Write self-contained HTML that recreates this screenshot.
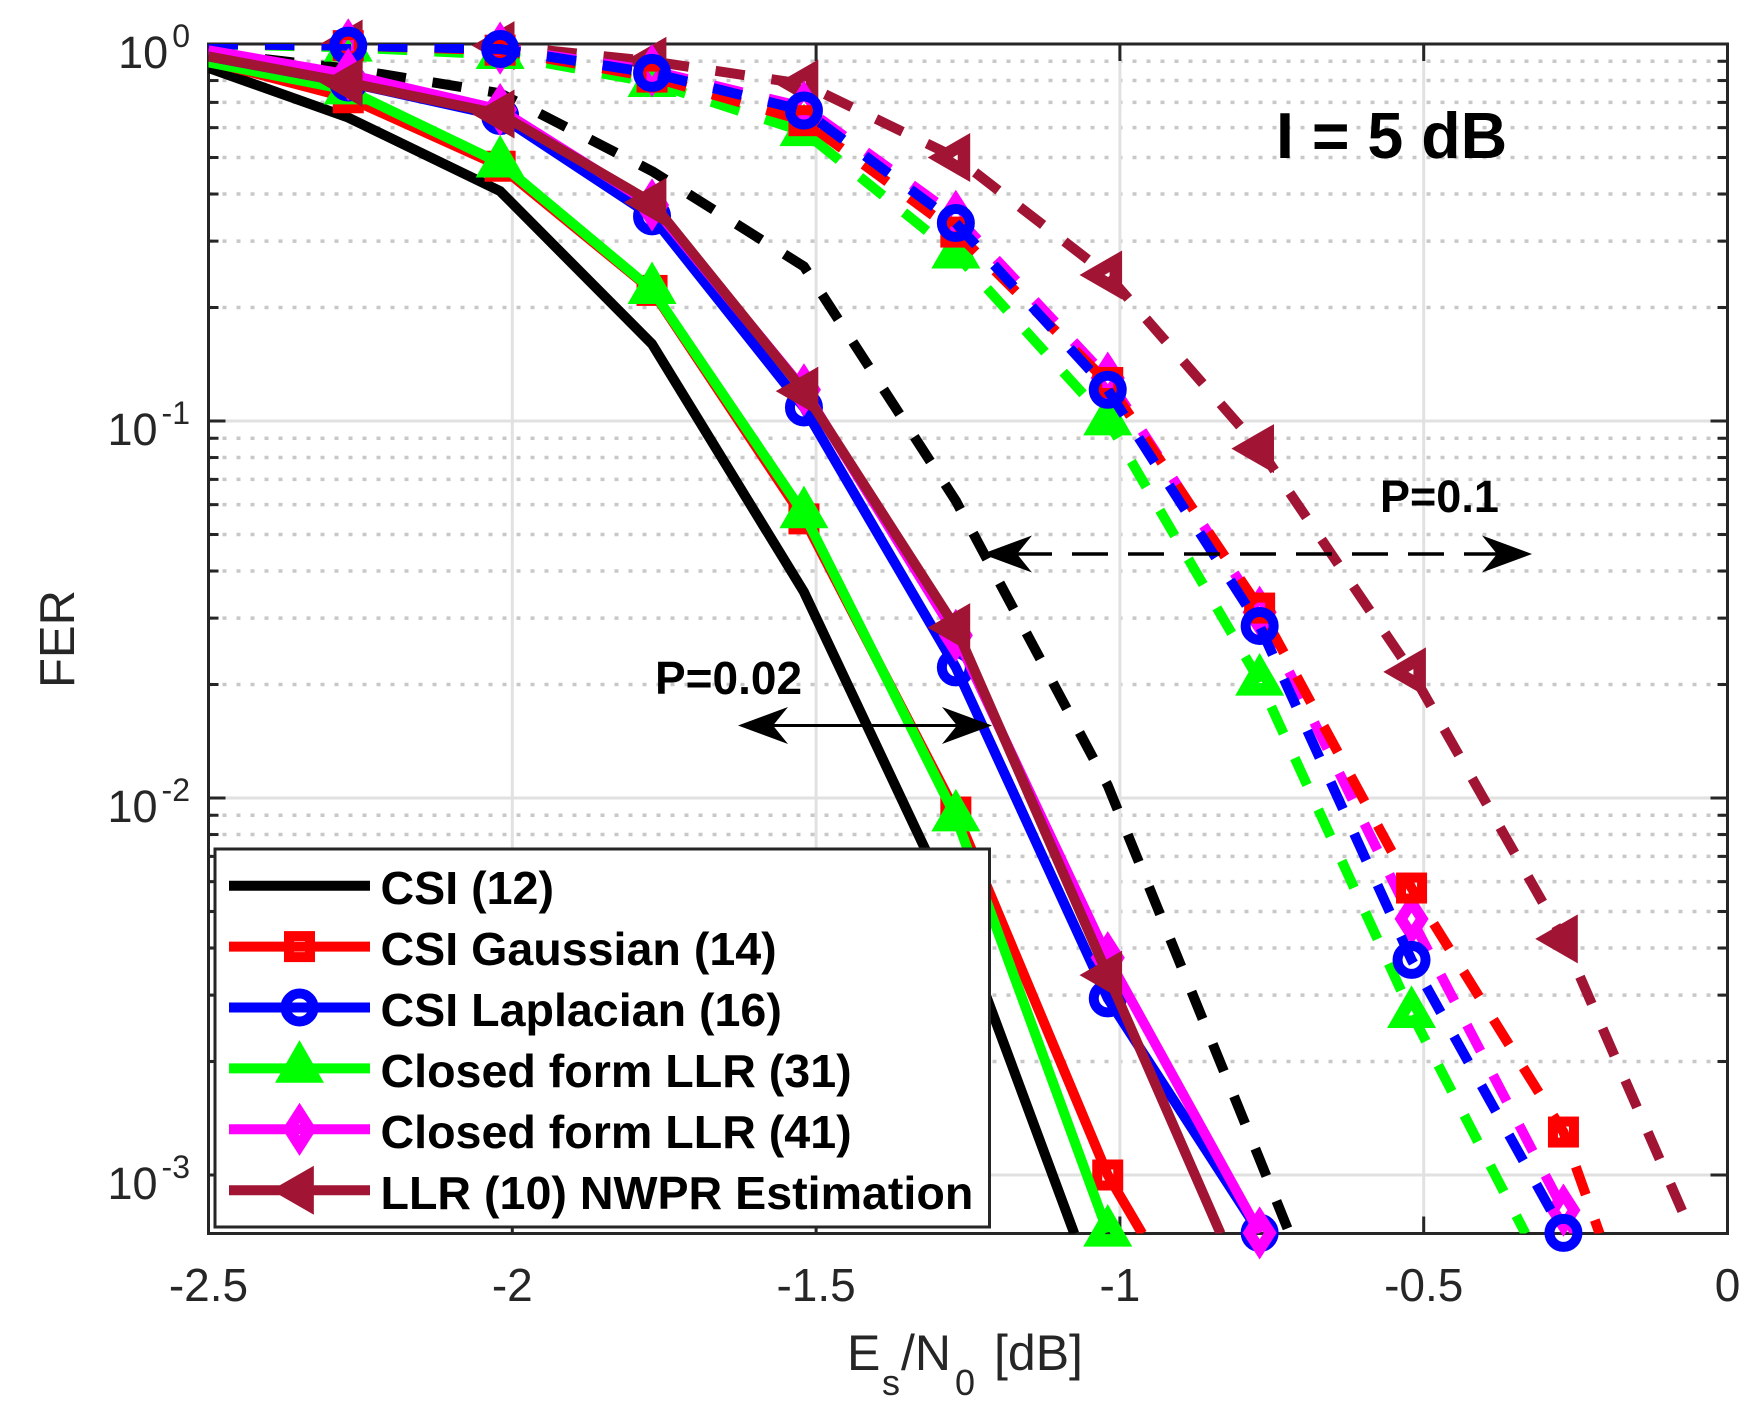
<!DOCTYPE html>
<html lang="en">
<head>
<meta charset="utf-8">
<title>FER vs Es/N0, I = 5 dB</title>
<style>
html,body{margin:0;padding:0;background:#fff;width:1761px;height:1428px;overflow:hidden;}
svg{display:block;font-family:"Liberation Sans",sans-serif;}
</style>
</head>
<body>
<svg id="chart" xmlns="http://www.w3.org/2000/svg" width="1761" height="1428" viewBox="0 0 1761 1428">
  <rect x="0" y="0" width="1761" height="1428" fill="#fff"/>
  <defs>
    <clipPath id="plot-clip"><rect x="208.5" y="44" width="1519" height="1189.5"/></clipPath>
  </defs>
  <g id="grid"></g>
  <g id="axes"></g>
  <g id="series"></g>

  <text transform="translate(74,639) rotate(-90)" text-anchor="middle" font-size="49" fill="#262626">FER</text>
  <g fill="#262626">
    <text x="847" y="1370" font-size="50">E</text>
    <text x="882" y="1395" font-size="36">s</text>
    <text x="901" y="1370" font-size="50">/N</text>
    <text x="955" y="1395" font-size="36">0</text>
    <text x="994" y="1370" font-size="50">[dB]</text>
  </g>

  <text x="1276" y="158" font-size="64.5" font-weight="700" fill="#000">I = 5 dB</text>
  <text x="1380" y="512" font-size="45" font-weight="700" fill="#000">P=0.1</text>
  <text x="655" y="694" font-size="46" font-weight="700" fill="#000">P=0.02</text>

  <g>
    <line x1="1016" y1="554" x2="1498" y2="554" stroke="#000" stroke-width="3.5" stroke-dasharray="36 20"/>
    <polygon points="982,554 1032,535.5 1017,554 1032,572.5" fill="#000"/>
    <polygon points="1532,554 1482,535.5 1497,554 1482,572.5" fill="#000"/>
  </g>
  <g>
    <line x1="770" y1="725.5" x2="962" y2="725.5" stroke="#000" stroke-width="3"/>
    <polygon points="738,725.5 788,707 773,725.5 788,744" fill="#000"/>
    <polygon points="992,725.5 942,707 957,725.5 942,744" fill="#000"/>
  </g>

  <g id="legend">
    <rect x="215" y="849" width="774.5" height="378" fill="#fff" stroke="#262626" stroke-width="3"/>
    <g id="legend-keys"></g>
    <g font-size="46.6" font-weight="700" fill="#000">
      <text x="380.5" y="904">CSI (12)</text>
      <text x="380.5" y="965">CSI Gaussian (14)</text>
      <text x="380.5" y="1026">CSI Laplacian (16)</text>
      <text x="380.5" y="1087">Closed form LLR (31)</text>
      <text x="380.5" y="1148">Closed form LLR (41)</text>
      <text x="380.5" y="1209">LLR (10) NWPR Estimation</text>
    </g>
  </g>
</svg>
<script>
/* ---------- data ---------- */
const xValues = [-2.52, -2.27, -2.02, -1.77, -1.52, -1.27, -1.02, -0.77, -0.52, -0.27, -0.02];

const xTicks = [-2.5, -2, -1.5, -1, -0.5, 0];
const xTickLabels = ['-2.5', '-2', '-1.5', '-1', '-0.5', '0'];
const yTickExponents = [0, -1, -2, -3];
const yMinorMultipliers = [2, 3, 4, 5, 6, 7, 8, 9];

/* P = 0.02, solid curves */
const csiSolid = [0.887, 0.638, 0.407, 0.160, 0.0352, 0.00492, 0.000403];
const gaussianSolid = [0.918, 0.72, 0.474, 0.222, 0.055, 0.00918, 0.00100, 0.000207];
const laplacianSolid = [0.94, 0.79, 0.644, 0.349, 0.1086, 0.0222, 0.00294, 0.000702];
const closed31Solid = [0.907, 0.755, 0.483, 0.223, 0.0567, 0.0089, 0.000705];
const closed41Solid = [0.975, 0.83, 0.67, 0.374, 0.121, 0.027, 0.00377, 0.000702];
const nwprSolid = [0.94, 0.79, 0.652, 0.38, 0.12, 0.0283, 0.00339, 0.000405];

/* P = 0.1, dashed curves */
const csiDashed = [0.957, 0.86, 0.74, 0.46, 0.257, 0.0614, 0.0108, 0.0011, 0.00011];
const gaussianDashed = [1, 0.99, 0.963, 0.817, 0.626, 0.317, 0.1265, 0.0319, 0.00577, 0.0013, 0.000096];
const laplacianDashed = [1, 0.99, 0.97, 0.838, 0.666, 0.335, 0.121, 0.0286, 0.00372, 0.000702, 0.00006];
const closed31Dashed = [1, 0.98, 0.937, 0.79, 0.585, 0.277, 0.1, 0.0204, 0.00268, 0.000447];
const closed41Dashed = [1, 0.995, 0.975, 0.85, 0.68, 0.349, 0.13, 0.0311, 0.00478, 0.000807, 0.000123];
const nwprDashed = [1, 1, 0.99, 0.9, 0.783, 0.5, 0.244, 0.0845, 0.0216, 0.00423, 0.000505];

/* ---------- axis functions ---------- */
const plotLeft = 208.5, plotRight = 1727.5, plotTop = 44, decadeHeight = 377;
const yMinValue = 0.0007;
const plotBottom = 1233.5;
function xs(v) { return plotLeft + (v + 2.5) / 2.5 * (plotRight - plotLeft); }
function ys(v) { return plotTop - Math.log10(v) * decadeHeight; }

const NS = 'http://www.w3.org/2000/svg';
function mk(tag, attrs, parent) {
  const el = document.createElementNS(NS, tag);
  for (const k in attrs) el.setAttribute(k, attrs[k]);
  if (parent) parent.appendChild(el);
  return el;
}

/* ---------- grid and axes ---------- */
const gridLayer = document.getElementById('grid');
const axesLayer = document.getElementById('axes');
const AX = '#262626';

yTickExponents.forEach(function (e) {
  yMinorMultipliers.forEach(function (m) {
    const v = m * Math.pow(10, e);
    if (v >= yMinValue && v < 1) {
      const y = ys(v);
      const g = mk('line', {x1: plotLeft, x2: plotRight, y1: y, y2: y, stroke: '#c8c8c8', 'stroke-width': 3.5, 'stroke-dasharray': '4 10'}, gridLayer);
      
      
      const t1 = mk('line', {x1: plotLeft, x2: plotLeft + 10, y1: y, y2: y, stroke: AX, 'stroke-width': 3}, axesLayer);
      
      
      const t2 = mk('line', {x1: plotRight, x2: plotRight - 10, y1: y, y2: y, stroke: AX, 'stroke-width': 3}, axesLayer);
      
      
    }
  });
  const y = ys(Math.pow(10, e));
  const g = mk('line', {x1: plotLeft, x2: plotRight, y1: y, y2: y, stroke: '#e1e1e1', 'stroke-width': 3}, gridLayer);
  
  
  const t1 = mk('line', {x1: plotLeft, x2: plotLeft + 17, y1: y, y2: y, stroke: AX, 'stroke-width': 3}, axesLayer);
  
  
  const t2 = mk('line', {x1: plotRight, x2: plotRight - 17, y1: y, y2: y, stroke: AX, 'stroke-width': 3}, axesLayer);
  
  

  const label = mk('text', {x: 190, y: y + 24, 'text-anchor': 'end', 'font-size': 45, fill: AX}, axesLayer);
  
  
  label.appendChild(document.createTextNode('10'));
  const sup = mk('tspan', {dx: 4, dy: -21, 'font-size': 32}, label);
  sup.textContent = String(e);
});

xTicks.forEach(function (v, i) {
  const x = xs(v);
  if (i > 0 && i < xTicks.length - 1) {
    const g = mk('line', {x1: x, x2: x, y1: plotTop, y2: plotBottom, stroke: '#e1e1e1', 'stroke-width': 3}, gridLayer);
    
    
  }
  const t1 = mk('line', {x1: x, x2: x, y1: plotBottom, y2: plotBottom - 17, stroke: AX, 'stroke-width': 3}, axesLayer);
  
  
  const t2 = mk('line', {x1: x, x2: x, y1: plotTop, y2: plotTop + 17, stroke: AX, 'stroke-width': 3}, axesLayer);
  
  
  const label = mk('text', {x: x, y: 1301, 'text-anchor': 'middle', 'font-size': 46, fill: AX}, axesLayer);
  
  
  label.textContent = xTickLabels[i];
});

const box = mk('rect', {x: plotLeft, y: plotTop, width: plotRight - plotLeft, height: plotBottom - plotTop, fill: 'none', stroke: AX, 'stroke-width': 3}, axesLayer);



/* ---------- markers ---------- */
const SW = 10;
function drawMarker(kind, x, y, color, parent) {
  const attrs = {fill: 'none', stroke: color, 'stroke-width': SW, 'stroke-miterlimit': 10, 'stroke-linejoin': 'miter', transform: 'translate(' + x + ',' + y + ')'};
  let el;
  if (kind === 'square') {
    attrs.x = -10.5; attrs.y = -10.5; attrs.width = 21; attrs.height = 21;
    el = mk('rect', attrs, parent);
  } else if (kind === 'circle') {
    attrs.r = 14;
    el = mk('circle', attrs, parent);
  } else if (kind === 'up') {
    attrs['stroke-width'] = 12.5;
    attrs.points = '0,-15.7 13.7,8.1 -13.7,8.1';
    el = mk('polygon', attrs, parent);
  } else if (kind === 'diamond') {
    attrs['stroke-width'] = 11;
    attrs.points = '0,-16.4 10.5,0 0,16.4 -10.5,0';
    el = mk('polygon', attrs, parent);
  } else if (kind === 'left') {
    attrs['stroke-width'] = 12.5;
    attrs.points = '-15.7,0 8.1,-13.7 8.1,13.7';
    el = mk('polygon', attrs, parent);
  }
  return el;
}

/* ---------- series ---------- */
const BROWN = '#a11433';
const seriesLayer = document.getElementById('series');

/* Trim a curve to the axes box so dashes start at the left axis and nothing runs past the bottom. */
function visiblePoints(values) {
  const out = [];
  for (let i = 0; i < values.length; i++) {
    const px = xs(xValues[i]), py = ys(values[i]);
    if (px < plotLeft) {
      if (i + 1 < values.length) {
        const nx = xs(xValues[i + 1]), ny = ys(values[i + 1]);
        out.push([plotLeft, py + (ny - py) * (plotLeft - px) / (nx - px)]);
      }
      continue;
    }
    if (py > plotBottom) {
      const prev = out[out.length - 1];
      const t = (plotBottom - prev[1]) / (py - prev[1]);
      out.push([prev[0] + (px - prev[0]) * t, plotBottom]);
      break;
    }
    out.push([px, py]);
  }
  return out;
}

function drawSeries(name, values, color, kind, dashed) {
  const group = mk('g', {}, seriesLayer);
  
  
  const pts = visiblePoints(values).map(function (p) { return p[0].toFixed(2) + ',' + p[1].toFixed(2); }).join(' ');
  const attrs = {points: pts, fill: 'none', stroke: color, 'stroke-width': SW, 'stroke-linejoin': 'round', 'clip-path': 'url(#plot-clip)'};
  if (dashed) attrs['stroke-dasharray'] = '29.5 27';
  const line = mk('polyline', attrs, group);
  
  
  if (kind) {
    values.forEach(function (v, i) {
      const x = xValues[i];
      if (x < -2.5 || x > 0 || v < yMinValue || v > 1) return;
      const m = drawMarker(kind, xs(x), ys(v), color, group);
      
      
    });
  }
}

drawSeries('csi-dashed', csiDashed, '#000', null, true);
drawSeries('nwpr-dashed', nwprDashed, BROWN, 'left', true);
drawSeries('closed-form-31-dashed', closed31Dashed, '#0f0', 'up', true);
drawSeries('closed-form-41-dashed', closed41Dashed, '#f0f', 'diamond', true);
drawSeries('csi-gaussian-dashed', gaussianDashed, '#f00', 'square', true);
drawSeries('csi-laplacian-dashed', laplacianDashed, '#00f', 'circle', true);
drawSeries('csi-solid', csiSolid, '#000', null, false);
drawSeries('csi-gaussian-solid', gaussianSolid, '#f00', 'square', false);
drawSeries('closed-form-31-solid', closed31Solid, '#0f0', 'up', false);
drawSeries('csi-laplacian-solid', laplacianSolid, '#00f', 'circle', false);
drawSeries('closed-form-41-solid', closed41Solid, '#f0f', 'diamond', false);
drawSeries('nwpr-solid', nwprSolid, BROWN, 'left', false);

/* ---------- legend keys ---------- */
const legendColors = ['#000', '#f00', '#00f', '#0f0', '#f0f', BROWN];
const legendKinds = [null, 'square', 'circle', 'up', 'diamond', 'left'];
const legendKeys = document.getElementById('legend-keys');
legendColors.forEach(function (color, i) {
  const y = 885.7 + i * 60.9;
  const key = mk('line', {x1: 229, x2: 370, y1: y, y2: y, stroke: color, 'stroke-width': SW}, legendKeys);
  
  
  if (legendKinds[i]) {
    const m = drawMarker(legendKinds[i], 299.5, y, color, legendKeys);
    
    
  }
});
</script>
</body>
</html>
